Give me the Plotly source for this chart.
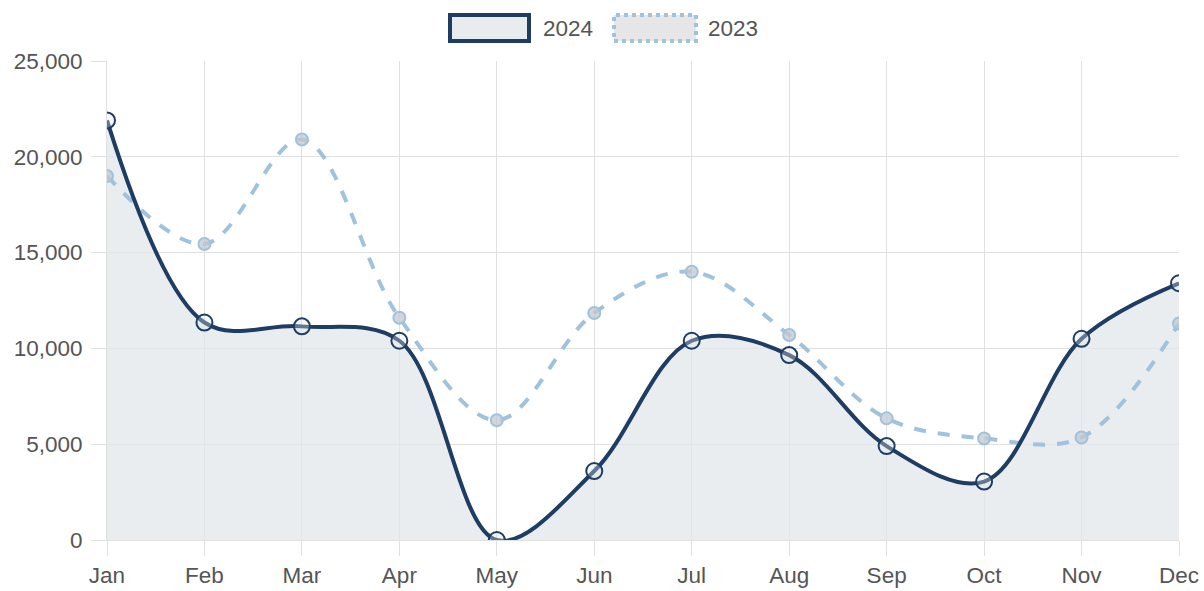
import plotly.graph_objects as go

months = ["Jan", "Feb", "Mar", "Apr", "May", "Jun", "Jul", "Aug", "Sep", "Oct", "Nov", "Dec"]
sales_2024 = [21900, 11350, 11150, 10400, 0, 3600, 10400, 9650, 4900, 3050, 10500, 13400]
sales_2023 = [19000, 15450, 20900, 11600, 6250, 11850, 14000, 10700, 6350, 5300, 5350, 11300]
y_ticks = [0, 5000, 10000, 15000, 20000, 25000]

NAVY = "#1d3d63"
LIGHT = "#9fc2de"
FONT = "Liberation Sans, Arial, sans-serif"
FS = 22.5

# plot area in page pixels
L, R, T, B = 107, 1179, 61, 540
def px(x):
    return (x - L) / (R - L)
def py(y):
    return (B - y) / (B - T)

fig = go.Figure()
# 2024 fill (below everything)
fig.add_trace(go.Scatter(
    x=months, y=sales_2024, mode="lines", fill="tozeroy",
    fillcolor="rgba(226,231,235,0.75)",
    line=dict(color="rgba(0,0,0,0)", width=0, shape="spline", smoothing=1.0),
    showlegend=False, hoverinfo="skip",
))
fig.add_trace(go.Scatter(
    x=months, y=sales_2023, name="2023", mode="lines+markers",
    line=dict(color=LIGHT, width=4, dash="dash", shape="spline", smoothing=1.0),
    marker=dict(size=12, color="rgba(195,200,205,0.75)", line=dict(color=LIGHT, width=2)),
    showlegend=False,
))
fig.add_trace(go.Scatter(
    x=months, y=sales_2024, name="2024", mode="lines+markers",
    line=dict(color=NAVY, width=4, shape="spline", smoothing=1.0),
    marker=dict(size=16, color="rgba(226,231,235,0.35)", line=dict(color=NAVY, width=2)),
    showlegend=False,
))

shapes = [
    dict(type="rect", xref="paper", yref="paper", x0=px(450), x1=px(529),
         y0=py(41), y1=py(15), line=dict(color=NAVY, width=4), fillcolor="#e8ecef", layer="above"),
    dict(type="rect", xref="paper", yref="paper", x0=px(614), x1=px(696),
         y0=py(41), y1=py(15), line=dict(color=LIGHT, width=4, dash="dot"), fillcolor="#e6e6e6", layer="above"),
]
fig.update_layout(shapes=shapes)
fig.add_annotation(xref="paper", yref="paper", x=px(541), y=py(28),
                   text="2024", showarrow=False, xanchor="left", yanchor="middle",
                   font=dict(size=FS, color="#555555", family=FONT))
fig.add_annotation(xref="paper", yref="paper", x=px(706), y=py(28),
                   text="2023", showarrow=False, xanchor="left", yanchor="middle",
                   font=dict(size=FS, color="#555555", family=FONT))

fig.update_layout(
    width=1204, height=591,
    margin=dict(l=L, r=1204 - R, t=T, b=591 - B, autoexpand=False),
    paper_bgcolor="white", plot_bgcolor="white",
    font=dict(family=FONT, size=FS, color="#666666"),
    xaxis=dict(range=[0, 11], showgrid=True, gridcolor="#e0e0e0", gridwidth=1,
               ticks="outside", ticklen=15, tickcolor="#e0e0e0", automargin=False,
               showline=True, linecolor="#e0e0e0", zeroline=False,
               tickfont=dict(size=FS, color="#555555")),
    yaxis=dict(range=[0, 25000], tickvals=y_ticks, tickformat=",", showgrid=True,
               gridcolor="#e0e0e0", gridwidth=1, ticks="outside", ticklen=15,
               tickcolor="#e0e0e0", showline=True, linecolor="#e0e0e0", zeroline=False,
               ticklabelstandoff=4, automargin=False,
               tickfont=dict(size=FS, color="#555555")),
)

fig.write_html(
    "out.html",
    config={"displayModeBar": False},
    post_script="document.body.style.margin='0';document.body.style.overflow='hidden';",
)
